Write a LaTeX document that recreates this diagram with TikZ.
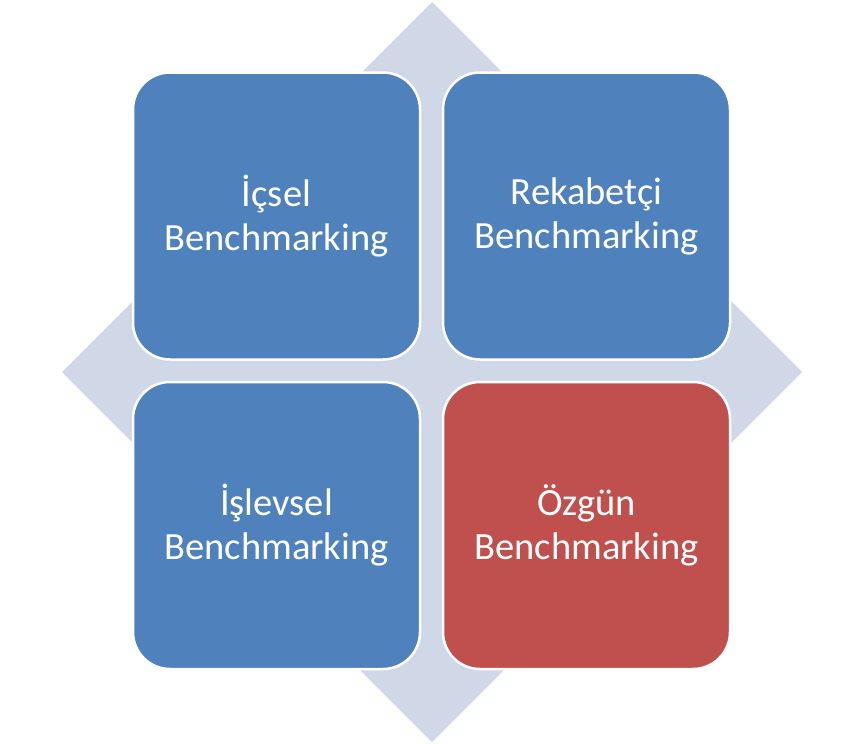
\documentclass[tikz,border=0pt]{standalone}
\usepackage{fontspec}
\setmainfont{Carlito}
\definecolor{boxblue}{HTML}{4F81BD}
\definecolor{boxred}{HTML}{C0504D}
\definecolor{diamondc}{HTML}{D0D8E8}
\begin{document}
\begin{tikzpicture}[x=1pt,y=-1pt,
  quad/.style={rectangle, rounded corners=37pt, draw=white, line width=2.5pt,
    minimum width=287pt, minimum height=287pt, inner sep=0pt, outer sep=0pt,
    text=white, align=center, font=\fontsize{38.5}{44}\selectfont},
  bluequad/.style={quad, fill=boxblue},
  redquad/.style={quad, fill=boxred}]
\useasboundingbox[fill=white] (0,0) rectangle (865,744);
\fill[diamondc] (432,2) -- (802,372) -- (432,742) -- (62,372) -- cycle;
\node[bluequad] (tl) at (276.5,216) {İçsel\\Benchmarking};
\node[bluequad] (tr) at (586.5,216) {Rekabetçi\\Benchmarking};
\node[bluequad] (bl) at (276.5,525.5) {İşlevsel\\Benchmarking};
\node[redquad]  (br) at (586.5,525.5) {Özgün\\Benchmarking};
\end{tikzpicture}
\end{document}
